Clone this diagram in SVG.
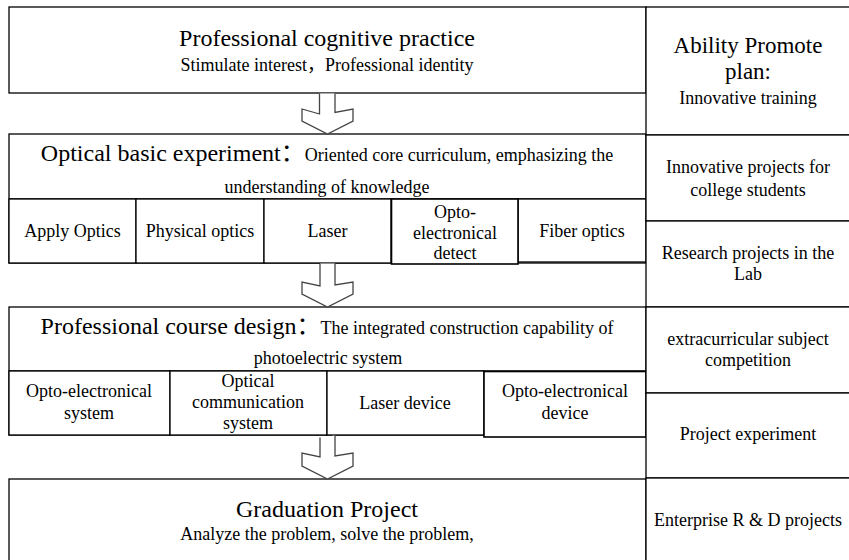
<svg xmlns="http://www.w3.org/2000/svg" width="849" height="560" viewBox="0 0 849 560">
<style>
  .box{fill:#fff;stroke:#000;stroke-width:1.3}
  .ln{stroke:#000;stroke-width:1.3;fill:none}
  .arr{fill:#fff;stroke:#444;stroke-width:1.3;stroke-linejoin:miter}
  text{font-family:'Liberation Serif','Noto Sans CJK SC',serif;fill:#000;text-anchor:middle}
  .big{font-size:24px}
  .mid{font-size:23px}
  .sm{font-size:18px}
</style>
<rect x="0" y="0" width="849" height="560" fill="#fff"/>

<g id="n1">
  <rect class="box" x="9" y="7" width="637" height="86"/>
  <text class="big" x="327" y="46">Professional cognitive practice</text>
  <text class="sm" x="327" y="71">Stimulate interest，Professional identity</text>
</g>

<g id="n2">
  <rect class="box" x="9" y="134" width="637" height="129"/>
  <line class="ln" x1="9" y1="199" x2="646" y2="199"/>
  <text x="327" y="161"><tspan class="big">Optical basic experiment：</tspan><tspan class="sm">Oriented core curriculum, emphasizing the</tspan></text>
  <text class="sm" x="327" y="193">understanding of knowledge</text>
</g>
<g id="n2a">
  <rect class="box" x="9" y="199" width="127" height="64"/>
  <text class="sm" x="72.5" y="237">Apply Optics</text>
</g>
<g id="n2b">
  <rect class="box" x="136" y="199" width="128" height="64"/>
  <text class="sm" x="200" y="237">Physical optics</text>
</g>
<g id="n2c">
  <rect class="box" x="264" y="199" width="127" height="64"/>
  <text class="sm" x="327.5" y="237">Laser</text>
</g>
<g id="n2e">
  <rect class="box" x="518" y="199" width="128" height="63"/>
  <text class="sm" x="582" y="237">Fiber optics</text>
</g>
<g id="n2d">
  <rect class="box" x="391.5" y="199" width="126.5" height="65" style="stroke-width:1.6"/>
  <text class="sm" x="455" y="218">Opto-</text>
  <text class="sm" x="455" y="239">electronical</text>
  <text class="sm" x="455" y="259">detect</text>
</g>

<g id="n3">
  <rect class="box" x="9" y="307" width="637" height="128"/>
  <line class="ln" x1="9" y1="371" x2="646" y2="371"/>
  <text x="327" y="334"><tspan class="big">Professional course design：</tspan><tspan class="sm">The integrated construction capability of</tspan></text>
  <text class="sm" x="328" y="364">photoelectric system</text>
</g>
<g id="n3a">
  <rect class="box" x="9" y="371" width="161" height="64"/>
  <text class="sm" x="89" y="397">Opto-electronical</text>
  <text class="sm" x="89" y="419">system</text>
</g>
<g id="n3b">
  <rect class="box" x="170" y="371" width="157" height="64"/>
  <text class="sm" x="248" y="387">Optical</text>
  <text class="sm" x="248" y="408">communication</text>
  <text class="sm" x="248" y="429">system</text>
</g>
<g id="n3c">
  <rect class="box" x="327" y="371" width="157" height="64"/>
  <text class="sm" x="405" y="409">Laser device</text>
</g>
<g id="n3d">
  <rect class="box" x="484" y="371.5" width="162" height="65.5" style="stroke-width:1.6"/>
  <text class="sm" x="565" y="397">Opto-electronical</text>
  <text class="sm" x="565" y="419">device</text>
</g>

<g id="n4">
  <rect class="box" x="9" y="479" width="637" height="90"/>
  <text class="big" x="327" y="517">Graduation Project</text>
  <text class="sm" x="327" y="540">Analyze the problem, solve the problem,</text>
</g>

<g id="r1">
  <rect class="box" x="646" y="7" width="210" height="128"/>
  <text class="mid" x="748" y="53">Ability Promote</text>
  <text class="mid" x="748" y="79">plan:</text>
  <text class="sm" x="748" y="104">Innovative training</text>
</g>
<g id="r2">
  <rect class="box" x="646" y="135" width="210" height="86"/>
  <text class="sm" x="748" y="173">Innovative projects for</text>
  <text class="sm" x="748" y="196">college students</text>
</g>
<g id="r3">
  <rect class="box" x="646" y="221" width="210" height="86"/>
  <text class="sm" x="748" y="259">Research projects in the</text>
  <text class="sm" x="748" y="280">Lab</text>
</g>
<g id="r4">
  <rect class="box" x="646" y="307" width="210" height="86"/>
  <text class="sm" x="748" y="345">extracurricular subject</text>
  <text class="sm" x="748" y="366">competition</text>
</g>
<g id="r5">
  <rect class="box" x="646" y="393" width="210" height="85"/>
  <text class="sm" x="748" y="440">Project experiment</text>
</g>
<g id="r6">
  <rect class="box" x="646" y="478" width="210" height="90"/>
  <text class="sm" x="748" y="526">Enterprise R &amp; D projects</text>
</g>

<g id="connectors">
  <path class="arr" d="M319.5,93.6 L319.5,114 L302,109 L302,121 L327.5,134 L353,121 L353,109 L335,112.5 L335,93.6"/>
  <path class="arr" d="M320,263.6 L320,286 L302,282 L302,294 L327.5,307 L353,294 L353,282 L335,285 L335,263.6"/>
  <path class="arr" d="M320,437.6 L320,457 L302,453 L302,466 L327.5,479 L353,466 L353,453 L335,456 L335,435.6"/>
</g>
</svg>
